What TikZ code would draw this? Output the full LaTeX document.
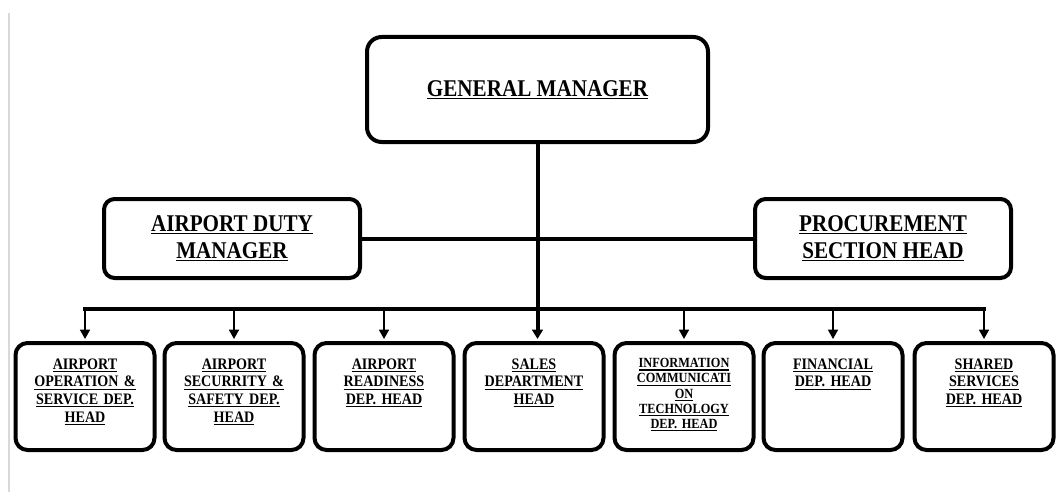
\documentclass[tikz,border=0pt]{standalone}
\usepackage{fontspec}
\setmainfont[FakeStretch=0.88]{Liberation Serif}
\usepackage{tikz}
\usetikzlibrary{arrows.meta,positioning}
\newcommand{\undl}[1]{\setbox0\hbox{#1}\leavevmode\rlap{\rule[-2pt]{\wd0}{0.8pt}}\box0}
\tikzset{
  topbox/.style  = {draw,line width=3pt,rounded corners=11pt,fill=white,
                    minimum width=255.75pt,minimum height=78.75pt,align=center,
                    font=\fontsize{18}{20}\selectfont\bfseries},
  midbox/.style  = {draw,line width=3pt,rounded corners=8pt,fill=white,
                    minimum width=192pt,minimum height=59.25pt,align=center,
                    font=\fontsize{18}{20}\selectfont\bfseries},
  deptbox/.style = {draw,line width=3pt,rounded corners=9pt,fill=white,
                    minimum width=104.25pt,minimum height=80.25pt},
  depttext/.style= {anchor=north,inner sep=0pt,text width=102pt,align=center,
                    yshift=-13pt,font=\fontsize{12}{13.3}\selectfont\bfseries},
  trunk/.style   = {line width=3pt},
  bus/.style     = {line width=3pt,line cap=rect},
  darrow/.style  = {-{Triangle[length=7pt,width=7.5pt]},line width=1.2pt,shorten >=1.5pt},
  tarrow/.style  = {-{Triangle[length=7pt,width=8pt]},line width=3pt,shorten >=1.5pt},
}
\begin{document}
\begin{tikzpicture}[x=0.75pt,y=-0.75pt]
  \useasboundingbox (0,0) rectangle (1056,492);
  % page edge
  \draw[black!15,line width=1.2pt] (9,13) -- (9,492);

  % management
  \node[topbox] (gm) at (537.5,89.5) {\undl{GENERAL MANAGER}};
  \node[midbox] (dutymgr) at (232,238.5) {\undl{AIRPORT DUTY}\\\undl{MANAGER}};
  \node[midbox] (procure) at (883,238.5) {\undl{PROCUREMENT}\\\undl{SECTION HEAD}};

  % departments
  \node[deptbox] (ops)       at (85,396.5)  {};
  \node[deptbox] (security)  at (234,396.5) {};
  \node[deptbox] (readiness) at (384,396.5) {};
  \node[deptbox] (sales)     at (534,396.5) {};
  \node[deptbox] (ict)       at (684,396.5) {};
  \node[deptbox] (finance)   at (833,396.5) {};
  \node[deptbox] (shared)    at (984,396.5) {};

  \node[depttext] (opsT) at (ops.north)
    {\undl{AIRPORT}\\\undl{OPERATION \&}\\\undl{SERVICE DEP.}\\\undl{HEAD}};
  \node[depttext] (securityT) at (security.north)
    {\undl{AIRPORT}\\\undl{SECURRITY \&}\\\undl{SAFETY DEP.}\\\undl{HEAD}};
  \node[depttext] (readinessT) at (readiness.north)
    {\undl{AIRPORT}\\\undl{READINESS}\\\undl{DEP. HEAD}};
  \node[depttext] (salesT) at (sales.north)
    {\undl{SALES}\\\undl{DEPARTMENT}\\\undl{HEAD}};
  \node[depttext,font=\fontsize{10.5}{11.3}\selectfont\bfseries] (ictT) at (ict.north)
    {\undl{INFORMATION}\\\undl{COMMUNICATI}\\\undl{ON}\\\undl{TECHNOLOGY}\\\undl{DEP. HEAD}};
  \node[depttext] (financeT) at (finance.north)
    {\undl{FINANCIAL}\\\undl{DEP. HEAD}};
  \node[depttext] (sharedT) at (shared.north)
    {\undl{SHARED}\\\undl{SERVICES}\\\undl{DEP. HEAD}};

  % connectors
  \coordinate (busL) at (85,309);
  \draw[trunk] (dutymgr) -- (procure);
  \draw[bus] (ops.north |- busL) -- (shared.north |- busL);
  \draw[tarrow] (gm.south) -- (gm.south |- sales.north);
  \draw[darrow] (ops.north |- busL) -- (ops.north);
  \draw[darrow] (security.north |- busL) -- (security.north);
  \draw[darrow] (readiness.north |- busL) -- (readiness.north);
  \draw[darrow] (ict.north |- busL) -- (ict.north);
  \draw[darrow] (finance.north |- busL) -- (finance.north);
  \draw[darrow] (shared.north |- busL) -- (shared.north);
\end{tikzpicture}
\end{document}
